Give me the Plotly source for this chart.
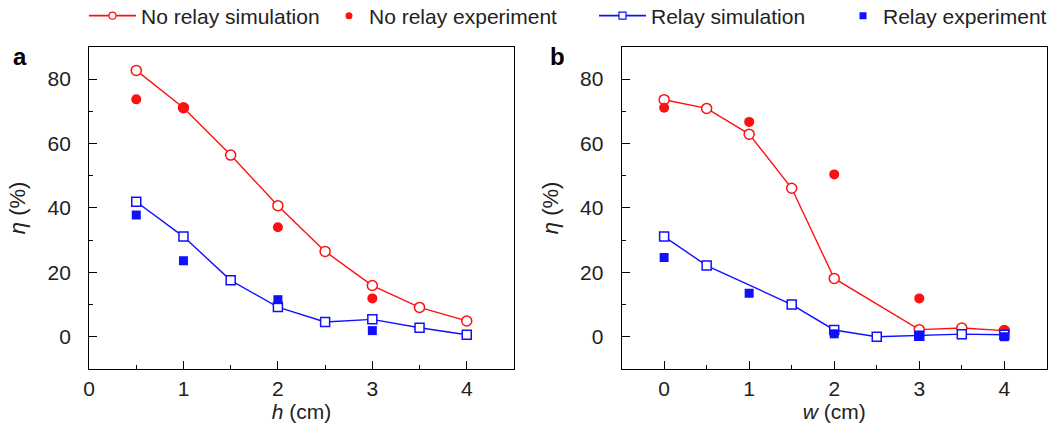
import plotly.graph_objects as go

# Panel a: efficiency versus height h
h_sim = [0.5, 1.0, 1.5, 2.0, 2.5, 3.0, 3.5, 4.0]
a_norelay_sim = [82.7, 71.1, 56.4, 40.7, 26.5, 15.9, 9.1, 4.9]
a_relay_sim = [41.9, 31.1, 17.5, 9.2, 4.6, 5.4, 2.8, 0.6]
h_exp = [0.5, 1.0, 2.0, 3.0]
a_norelay_exp = [73.7, 71.1, 34.0, 11.9]
a_relay_exp = [37.8, 23.6, 11.5, 1.9]

# Panel b: efficiency versus width w
w_norelay_sim = [0.0, 0.5, 1.0, 1.5, 2.0, 3.0, 3.5, 4.0]
b_norelay_sim = [73.6, 70.9, 62.9, 46.1, 18.1, 2.2, 2.7, 1.9]
w_relay_sim = [0.0, 0.5, 1.5, 2.0, 2.5, 3.0, 3.5, 4.0]
b_relay_sim = [31.1, 22.1, 10.0, 2.1, 0.0, 0.3, 0.8, 0.6]
w_exp = [0.0, 1.0, 2.0, 3.0, 4.0]
b_norelay_exp = [71.1, 66.7, 50.4, 11.9, 2.0]
b_relay_exp = [24.6, 13.5, 0.9, 0.2, 0.0]

series_names = ["No relay simulation", "No relay experiment", "Relay simulation", "Relay experiment"]
y_ticks = [0, 20, 40, 60, 80]
x_ticks = [0, 1, 2, 3, 4]

RED = "#ff1010"
BLUE = "#1010ff"
TXT = "#222222"
FONT = "Liberation Sans, Arial, Helvetica, sans-serif"

# marker/line styles per series
styles = [
    dict(line=RED, symbol="circle", fill="white", edge=RED),
    dict(line=None, symbol="circle", fill=RED, edge=RED),
    dict(line=BLUE, symbol="square", fill="white", edge=BLUE),
    dict(line=None, symbol="square", fill=BLUE, edge=BLUE),
]
marker_size = [10, 10, 9, 9]
legend_ids = ["legend", "legend2", "legend3", "legend4"]

fig = go.Figure()


def add_series(xa, ya, xs, ys, k):
    st = styles[k]
    mode = "lines+markers" if st["line"] else "markers"
    fig.add_trace(go.Scatter(
        x=xs, y=ys, mode=mode, name=series_names[k],
        line=dict(color=st["line"] or st["edge"], width=1.4),
        marker=dict(symbol=st["symbol"], size=marker_size[k], color=st["fill"],
                    line=dict(color=st["edge"], width=1.5 if st["line"] else 0)),
        xaxis=xa, yaxis=ya, showlegend=False))


panel_a = [(h_sim, a_norelay_sim), (h_exp, a_norelay_exp), (h_sim, a_relay_sim), (h_exp, a_relay_exp)]
panel_b = [(w_norelay_sim, b_norelay_sim), (w_exp, b_norelay_exp), (w_relay_sim, b_relay_sim),
           (w_exp, b_relay_exp)]
for k, (xs, ys) in enumerate(panel_a):
    add_series("x", "y", xs, ys, k)
for k, (xs, ys) in enumerate(panel_b):
    add_series("x2", "y2", xs, ys, k)

# legend entries with smaller symbols than the plotted markers
for k in range(4):
    st = styles[k]
    mode = "lines+markers" if st["line"] else "markers"
    fig.add_trace(go.Scatter(
        x=[None], y=[None], mode=mode, name=series_names[k],
        line=dict(color=st["line"] or st["edge"], width=1.6),
        marker=dict(symbol=st["symbol"], size=7, color=st["fill"],
                    line=dict(color=st["edge"], width=1.2 if st["line"] else 0)),
        showlegend=True, legend=legend_ids[k]))

axis_common = dict(
    showline=True, linecolor="black", linewidth=1, mirror=True,
    ticks="inside", ticklen=8, tickwidth=1, tickcolor="black",
    showgrid=False, zeroline=False,
    tickfont=dict(family=FONT, size=21, color=TXT),
)

yax = dict(axis_common, range=[-10, 90], tickvals=y_ticks,
           minor=dict(dtick=10, tick0=0, ticks="inside", ticklen=4, tickwidth=1, tickcolor="black"),
           domain=[0.142, 0.891], ticklabelstandoff=13,
           title=dict(text="<i>η</i> (%)", font=dict(family=FONT, size=22, color=TXT), standoff=15))

xminor = dict(dtick=0.5, tick0=0, ticks="inside", ticklen=4, tickwidth=1, tickcolor="black")

fig.update_layout(
    width=1050, height=430,
    margin=dict(l=0, r=0, t=0, b=0, autoexpand=False),
    paper_bgcolor="white", plot_bgcolor="white",
    font=dict(family=FONT, size=21, color=TXT),
    xaxis=dict(axis_common, range=[0, 4.5], tickvals=x_ticks, domain=[0.0848, 0.4895],
               minor=xminor, ticklabelstandoff=1,
               title=dict(text="<i>h</i> (cm)", font=dict(family=FONT, size=21, color=TXT), standoff=3),
               anchor="y"),
    yaxis=dict(yax, anchor="x"),
    xaxis2=dict(axis_common, range=[-0.5, 4.5], tickvals=x_ticks, domain=[0.592, 0.997],
                minor=xminor, ticklabelstandoff=1,
                title=dict(text="<i>w</i> (cm)", font=dict(family=FONT, size=21, color=TXT), standoff=3),
                anchor="y2"),
    yaxis2=dict(yax, anchor="x2"),
    annotations=[
        dict(text="<b>a</b>", x=11 / 1050, y=1 - 56 / 430, xref="paper", yref="paper",
             xanchor="left", yanchor="middle", showarrow=False,
             font=dict(family=FONT, size=24, color="black")),
        dict(text="<b>b</b>", x=548 / 1050, y=1 - 56 / 430, xref="paper", yref="paper",
             xanchor="left", yanchor="middle", showarrow=False,
             font=dict(family=FONT, size=24, color="black")),
    ],
)

leg_common = dict(orientation="h", yanchor="middle", xanchor="left", y=1 - 16 / 430,
                  bgcolor="rgba(0,0,0,0)", borderwidth=0, itemsizing="trace",
                  font=dict(family=FONT, size=21, color=TXT))
fig.update_layout(
    legend=dict(leg_common, x=84 / 1050, itemwidth=47),
    legend2=dict(leg_common, x=329 / 1050),
    legend3=dict(leg_common, x=594 / 1050, itemwidth=47),
    legend4=dict(leg_common, x=843 / 1050),
)

fig.write_html("out.html")
